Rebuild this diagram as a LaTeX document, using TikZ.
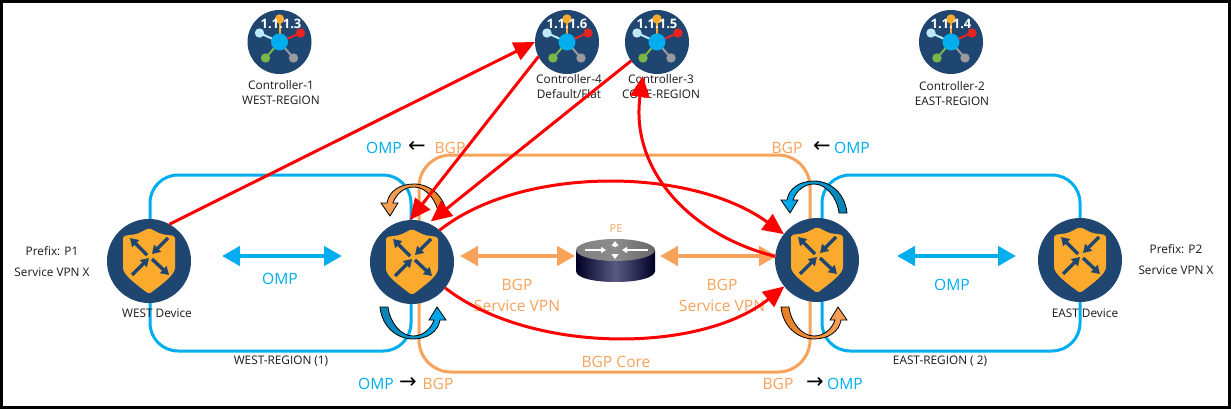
\documentclass[tikz,border=0pt]{standalone}
\usepackage{fontspec}
\setmainfont{Open Sans}
\newfontfamily\arrowfont{DejaVu Sans}
\usetikzlibrary{arrows.meta}
\definecolor{navy}{HTML}{1F4571}
\definecolor{shieldc}{HTML}{FBAA2D}
\definecolor{skyb}{HTML}{00AEEF}
\definecolor{darkb}{HTML}{0B7FB0}
\definecolor{orng}{HTML}{F7A35C}
\definecolor{dorng}{HTML}{E87E22}
\definecolor{redc}{HTML}{FF0000}
\definecolor{hubred}{HTML}{E52521}
\definecolor{hubgreen}{HTML}{7AB648}
\definecolor{hubgrey}{HTML}{9A9AA0}
\definecolor{hubpale}{HTML}{BDE8F7}
\tikzset{
  devnode/.style={circle,fill=navy,minimum size=84pt,inner sep=0pt,outer sep=0pt},
  ctlnode/.style={circle,fill=navy,minimum size=64pt,inner sep=0pt,outer sep=0pt},
  smalltxt/.style={font=\fontsize{11.8}{15}\selectfont,text=black!90,align=center,inner sep=0pt},
  prefixtxt/.style={font=\fontsize{11.8}{21}\selectfont,text=black!90,align=center,inner sep=0pt},
  iptxt/.style={font=\fontsize{13}{16}\selectfont\bfseries,text=white,inner sep=0pt},
  bigb/.style={font=\fontsize{15.6}{21}\selectfont,text=skyb,align=center,inner sep=0pt},
  bigo/.style={font=\fontsize{15.6}{21}\selectfont,text=orng,align=center,inner sep=0pt},
  arrtxt/.style={font=\fontsize{21}{21}\selectfont\arrowfont,text=black,inner sep=0pt},
  region/.style={draw=skyb,line width=3pt,rounded corners=28pt},
  coreregion/.style={draw=orng,line width=3pt,rounded corners=32pt},
  dblb/.style={draw=skyb,line width=4.5pt,{Triangle[width=19pt,length=18pt]}-{Triangle[width=19pt,length=18pt]}},
  dblo/.style={draw=orng,line width=4.5pt,{Triangle[width=19pt,length=18pt]}-{Triangle[width=19pt,length=18pt]}},
  redarrow/.style={draw=redc,line width=3pt,-{Triangle[width=19pt,length=21pt]}},
  shieldarrow/.style={draw=navy,line width=3.4pt,-{Triangle[width=9.5pt,length=8pt]}},
  pics/shieldpic/.style={code={
    \fill[shieldc,rounded corners=2pt] (0,-33) -- (-12,-27) -- (-26,-25) -- (-26,5)
      .. controls (-26,14) and (-12,24) .. (0,33)
      .. controls (12,24) and (26,14) .. (26,5) -- (26,-25) -- (12,-27) -- cycle;
    \draw[shieldarrow] (-2,-6) -- (-19,-23);
    \draw[shieldarrow] (19,-23) -- (3,-7);
    \draw[shieldarrow] (-17,14) -- (0,-3);
    \draw[shieldarrow] (3,-2) -- (20,14);
  }},
  pics/hubpic/.style={code={
    \draw[line width=2pt,shieldc] (0,0) -- (0,-23);
    \draw[line width=2pt,hubred] (0,0) -- (21,-9);
    \draw[line width=2pt,hubgrey] (0,0) -- (14,16);
    \draw[line width=2pt,hubgreen] (0,0) -- (-14,16);
    \draw[line width=2pt,hubpale] (0,0) -- (-20,-9);
    \fill[shieldc] (0,-23) circle[radius=4.7];
    \fill[hubred] (21,-9) circle[radius=4.7];
    \fill[hubgrey] (14,16) circle[radius=4.7];
    \fill[hubgreen] (-14,16) circle[radius=4.7];
    \fill[hubpale] (-20,-9) circle[radius=4.7];
    \fill[skyb] (0,0) circle[radius=8.5];
  }},
}
\newcommand{\bentarrow}[4]{%
  \path[draw=black,line width=.8pt,left color=#3,right color=#4,shift={(#1)},rotate=#2]
    (0,0) -- (8,-13) -- (3,-13)
    .. controls (6,-22) and (14,-29) .. (24,-29)
    .. controls (36,-29) and (47,-16) .. (49,0)
    -- (57,0)
    .. controls (55,-20) and (40,-32) .. (24,-32)
    .. controls (10,-32) and (-1,-25) .. (-3,-13)
    -- (-9,-13) -- cycle;}
\begin{document}
\begin{tikzpicture}[x=1pt,y=-1pt]
\useasboundingbox (0,0) rectangle (1231,409);
\fill[white] (0,0) rectangle (1231,409);

% regions
\draw[region] (150,175) rectangle (411,351);
\draw[region] (822,175) rectangle (1080,351);
\draw[coreregion] (419,155) rectangle (810,372);

% texts under the connectors
\node[smalltxt] (t1) at (281,93) {Controller-1\\WEST-REGION};
\node[smalltxt] (t4) at (569,87) {Controller-4\\Default/Flat};
\node[smalltxt] (t3) at (661,87) {Controller-3\\CORE-REGION};
\node[smalltxt] (t2) at (952,94) {Controller-2\\EAST-REGION};
\node[prefixtxt] (p1) at (52,262) {Prefix: P1\\Service VPN X};
\node[prefixtxt] (p2) at (1176,260) {Prefix: P2\\Service VPN X};
\node[smalltxt] (wr) at (281,361) {WEST-REGION (1)};
\node[smalltxt] (er) at (940,361) {EAST-REGION ( 2)};

\node[bigb] (o1) at (384,148) {OMP};
\node[arrtxt] (a1) at (417,147) {←};
\node[bigo] (b1) at (450,148) {BGP};
\node[bigo] (b2) at (787,148) {BGP};
\node[arrtxt] (a2) at (822,147) {←};
\node[bigb] (o2) at (852,148) {OMP};
\node[bigb] (o3) at (376,384) {OMP};
\node[arrtxt] (a3) at (408,383) {→};
\node[bigo] (b3) at (438,384) {BGP};
\node[bigo] (b4) at (778,384) {BGP};
\node[arrtxt] (a4) at (815,383) {→};
\node[bigb] (o4) at (845,384) {OMP};
\node[bigb] (o5) at (280,279) {OMP};
\node[bigb] (o6) at (952,285) {OMP};
\node[bigo] (s1) at (517,295) {BGP\\Service VPN};
\node[bigo] (s2) at (722,295) {BGP\\Service VPN};
\node[bigo] (bc) at (616,362) {BGP Core};
\node[font=\fontsize{11}{12}\selectfont,text=orng,inner sep=0pt] (pel) at (616,229) {PE};

% controllers
\node[ctlnode] (c1) at (279.5,42) {};
\node[ctlnode] (c4) at (567,42) {};
\node[ctlnode] (c3) at (657,42) {};
\node[ctlnode] (c2) at (951,42) {};
\pic at (279.5,42) {hubpic};
\pic at (567,42) {hubpic};
\pic at (657,42) {hubpic};
\pic at (951,42) {hubpic};
\node[iptxt] (i1) at (281,24) {1.1.1.3};
\node[iptxt] (i4) at (567,24) {1.1.1.6};
\node[iptxt] (i3) at (657,24) {1.1.1.5};
\node[iptxt] (i2) at (951,24) {1.1.1.4};

% devices
\node[devnode] (wd) at (149,261) {};
\node[devnode] (lc) at (412,262) {};
\node[devnode] (rc) at (817,260) {};
\node[devnode] (ed) at (1080,260) {};
\pic at (149,261) {shieldpic};
\pic at (412,262) {shieldpic};
\pic at (817,260) {shieldpic};
\pic at (1080,260) {shieldpic};
\node[smalltxt] (wl) at (157,313) {WEST Device};
\node[smalltxt] (el) at (1085,313) {EAST Device};

% PE router
\coordinate (pe) at (615.5,250);
\shade[left color=black!85!blue,right color=black!85!blue,middle color=blue!25!black!65!white]
  (576,250) -- (576,271) .. controls (576,278) and (594,282) .. (615.5,282)
  .. controls (637,282) and (655,278) .. (655,271) -- (655,250) -- cycle;
\shade[left color=black!50,right color=black!60,middle color=black!45]
  (pe) ellipse[x radius=39.5,y radius=11];
\draw[white,line width=1.6pt,-{Triangle[width=6pt,length=5pt]}] (585,250) -- (606,250);
\draw[white,line width=1.6pt,-{Triangle[width=6pt,length=5pt]}] (648,250) -- (622,250);
\draw[white,line width=1.6pt,-{Triangle[width=7pt,length=5pt]}] (615,247) -- (615,241);
\draw[white,line width=1.6pt,-{Triangle[width=7pt,length=5pt]}] (615,254) -- (615,259);

% bent arrows
\bentarrow{390,216}{0}{orng}{dorng}
\bentarrow{790,213}{0}{skyb}{darkb}
\bentarrow{437,307}{180}{darkb}{skyb}
\bentarrow{838,307}{180}{dorng}{orng}

% double arrows
\coordinate (d1a) at (222,256);
\coordinate (d1b) at (342,256);
\coordinate (d2a) at (460,256);
\coordinate (d2b) at (575,256);
\coordinate (d3a) at (660,256);
\coordinate (d3b) at (777,256);
\coordinate (d4a) at (897,256);
\coordinate (d4b) at (1016,256);
\draw[dblb] (d1a) -- (d1b);
\draw[dblo] (d2a) -- (d2b);
\draw[dblo] (d3a) -- (d3b);
\draw[dblb] (d4a) -- (d4b);

% red connectors
\draw[redarrow] (wd.61) -- (c4.180);
\draw[redarrow] (c4.207) -- (lc.93);
\draw[redarrow,shorten >=3pt] (c3.216) -- (lc.67);
\draw[redarrow] (lc.49) .. controls (520,166) and (690,166) .. (rc.142);
\draw[redarrow] (lc.-38) .. controls (530,354) and (700,354) .. (rc.219);
\draw[redarrow,shorten >=5pt] (rc.175) .. controls (690,235) and (630,170) .. (c3.245);

% frame
\draw[black,line width=3pt] (1.5,1.5) rectangle (1229.5,407.5);
\end{tikzpicture}
\end{document}
